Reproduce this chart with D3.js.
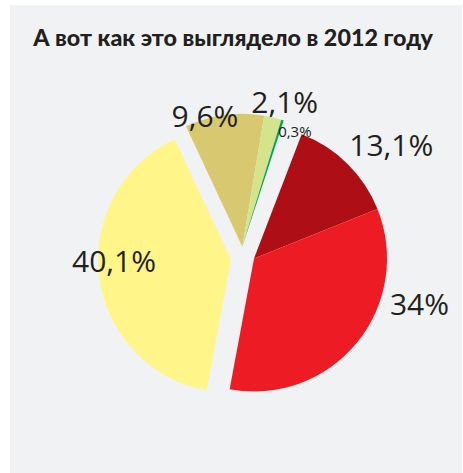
<!DOCTYPE html>
<html>
<head>
<meta charset="utf-8">
<script src="https://cdnjs.cloudflare.com/ajax/libs/d3/7.8.5/d3.min.js"></script>
<style>
  html, body { margin: 0; padding: 0; background: #ffffff; }
  svg { display: block; }
</style>
</head>
<body>
<div id="chart"></div>
<script>
"use strict";

// data, clockwise from the dark red slice
var labels = ["13,1%", "34%", "40,1%", "9,6%", "2,1%", "0,3%"];
var values = [13.1, 34, 40.1, 9.6, 2.1, 0.3];
var groups = [0, 0, 1, 2, 2, 2];
var title = "А вот как это выглядело в 2012 году";

var colors = ["#ae0e16", "#ed1c24", "#fff589", "#d8c970", "#d5e38c", "#00a651"];

var width = 463, height = 473;
var g = {};
g.radius = 133;
g.cx = 254;
g.cy = 258.5;
g.startDeg = 21;
// group explode: [distance, direction in degrees clockwise from north]
g.explode = [[0, 0], [23, 267], [16.5, 315]];
// label placement: [radius factor, angle shift from slice middle in degrees]
g.labelPlace = [[1.34, 5.8], [1.29, -24], [0.88, 6.4], [1.02, -8.2], [1.13, 3.1], [0.95, 7]];
g.labelSize = [30, 30, 30, 30, 30, 15];

var rad = function(deg) { return deg * Math.PI / 180; };

var svg = d3.select("#chart").append("svg")
  .attr("width", width)
  .attr("height", height);

svg.append("rect")
  .attr("x", 10)
  .attr("y", 5)
  .attr("width", width - 11)
  .attr("height", height - 5)
  .attr("fill", "#f1f2f4");

var titleText = svg.append("text")
  .attr("x", 233)
  .attr("y", 46)
  .attr("text-anchor", "middle")
  .attr("font-family", "Lato, 'Open Sans', sans-serif")
  .attr("font-weight", 900)
  .attr("font-size", 21)
  .attr("fill", "#231f20")
  .text(title);
// fit the title to the width it has in the picture
var tw = titleText.node().getComputedTextLength();
if (tw > 0) {
  titleText.attr("font-size", 21 * 400 / tw);
}

var total = d3.sum(values);
var pie = d3.pie()
  .sort(null)
  .value(function(d) { return d; })
  .startAngle(rad(g.startDeg))
  .endAngle(rad(g.startDeg) + 2 * Math.PI * total / 100);

var arcs = pie(values);
var arc = d3.arc()
  .innerRadius(0)
  .outerRadius(g.radius);

var offset = function(i) {
  var e = g.explode[groups[i]];
  return [e[0] * Math.sin(rad(e[1])), -e[0] * Math.cos(rad(e[1]))];
};

var pieG = svg.append("g")
  .attr("transform", "translate(" + g.cx + "," + g.cy + ")");

pieG.selectAll("path.slice")
  .data(arcs)
  .enter()
  .append("path")
    .attr("class", "slice")
    .attr("d", arc)
    .attr("fill", function(d, i) { return colors[i]; })
    .attr("transform", function(d, i) {
      var o = offset(i);
      return "translate(" + o[0] + "," + o[1] + ")";
    });

pieG.selectAll("text.label")
  .data(arcs)
  .enter()
  .append("text")
    .attr("class", "label")
    .attr("x", function(d, i) {
      var a = (d.startAngle + d.endAngle) / 2 + rad(g.labelPlace[i][1]);
      return offset(i)[0] + g.radius * g.labelPlace[i][0] * Math.sin(a);
    })
    .attr("y", function(d, i) {
      var a = (d.startAngle + d.endAngle) / 2 + rad(g.labelPlace[i][1]);
      return offset(i)[1] - g.radius * g.labelPlace[i][0] * Math.cos(a);
    })
    .attr("dy", "0.36em")
    .attr("text-anchor", "middle")
    .attr("font-family", "'Open Sans', sans-serif")
    .attr("font-size", function(d, i) { return g.labelSize[i]; })
    .attr("fill", "#231f20")
    .text(function(d, i) { return labels[i]; });
</script>
</body>
</html>
